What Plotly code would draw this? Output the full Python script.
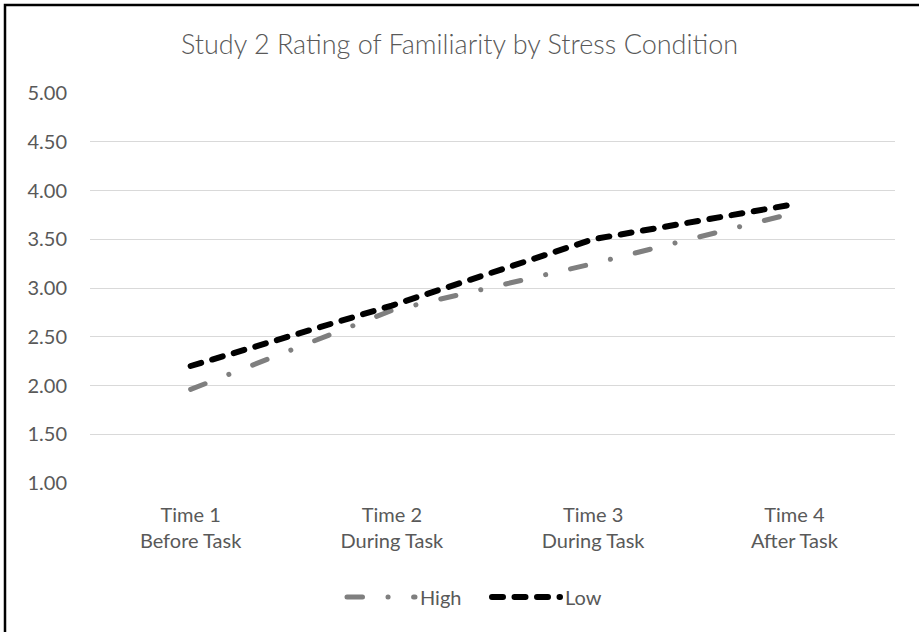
import plotly.graph_objects as go

# Category labels (two-line tick text) and mean familiarity ratings
time_points = ["Time 1<br>Before Task", "Time 2<br>During Task",
               "Time 3<br>During Task", "Time 4<br>After Task"]
high_stress = [1.96, 2.77, 3.25, 3.77]
low_stress = [2.20, 2.82, 3.50, 3.86]
y_ticks = [1.0, 1.5, 2.0, 2.5, 3.0, 3.5, 4.0, 4.5, 5.0]

TEXT = "#595959"
FONT = "Lato"

fig = go.Figure()
fig.add_trace(go.Scatter(
    x=time_points, y=high_stress, name="High", mode="lines",
    line=dict(color="#7f7f7f", width=5, dash="15.5px,25.5px,0.1px,25.5px"),
))
fig.add_trace(go.Scatter(
    x=time_points, y=low_stress, name="Low", mode="lines",
    line=dict(color="#000000", width=6, dash="11px,11.5px"),
))

# Outer frame: left and top edges of the chart area
L, T, B = 90, 93, 149
W, H = 919 - L - 24, 632 - T - B
def px_x(p):
    return (p - L) / W
def px_y(p):
    return (632 - B - p) / H

fig.add_shape(type="path", xref="paper", yref="paper",
              path=f"M {px_x(5)} {px_y(640)} L {px_x(5)} {px_y(5)} L {px_x(925)} {px_y(5)}",
              line=dict(color="#000000", width=2.5), layer="above")

fig.update_layout(
    width=919, height=632,
    margin=dict(l=L, r=24, t=T, b=B, autoexpand=False),
    paper_bgcolor="white", plot_bgcolor="white",
    font=dict(family=FONT, color=TEXT, size=20),
    title=dict(text="Study 2 Rating of Familiarity by Stress Condition",
               x=0.5, xanchor="center", xref="container",
               y=1 - 45 / 632, yanchor="middle", yref="container",
               font=dict(family=FONT, size=27, color=TEXT, weight=300)),
    xaxis=dict(type="category", range=[-0.5, 3.5],
               showgrid=False, zeroline=False, showline=False,
               ticks="", ticklabelstandoff=18,
               tickfont=dict(family=FONT, size=20, color=TEXT)),
    yaxis=dict(range=[1, 5], tickvals=y_ticks, tickformat=".2f",
               showgrid=True, gridcolor="#d9d9d9", gridwidth=1.3,
               zeroline=False, showline=False, ticks="", ticklabelstandoff=22,
               tickfont=dict(family=FONT, size=20, color=TEXT)),
    legend=dict(orientation="h", x=px_x(487), xanchor="center",
                y=px_y(597), yanchor="middle", itemwidth=68,
                entrywidth=62, entrywidthmode="pixels",
                font=dict(family=FONT, size=20, color=TEXT)),
    showlegend=True,
)

# Round line caps so the dash-dot pattern shows dots
post = """
var gd = document.getElementById('{plot_id}');
function caps(){
  gd.querySelectorAll('.js-line').forEach(function(p){
    p.style.strokeLinecap = 'round';
  });
}
caps();
gd.on('plotly_afterplot', caps);
"""

fig.write_html("out.html", post_script=post)
